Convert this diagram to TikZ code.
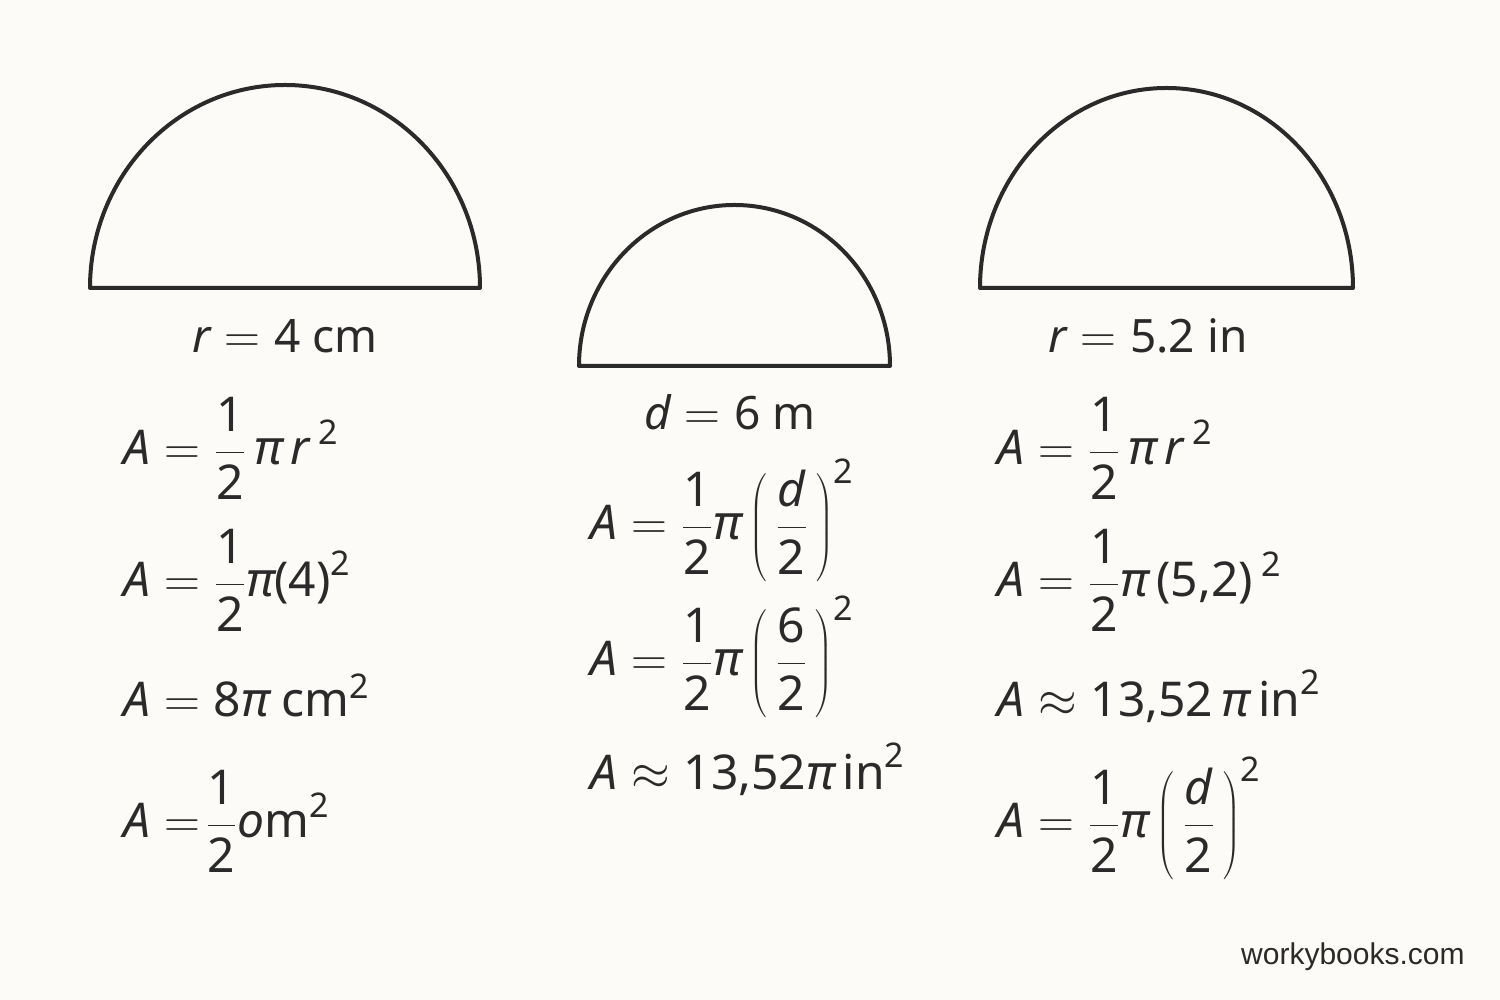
\documentclass[tikz,border=0pt]{standalone}
\usepackage{fontspec}
\setmainfont{Noto Sans}
\newfontfamily\wbfont{Liberation Sans}
\definecolor{ink}{HTML}{2A2A2A}
\definecolor{paper}{HTML}{FCFBF7}
\newcommand{\I}[1]{\mbox{\itshape #1}}
\newcommand{\R}[1]{\mbox{#1}}
\newcommand{\half}{\displaystyle\frac{\R{1}}{\R{2}}}
\newcommand{\sqr}{^{\mbox{\fontsize{17}{17}\selectfont 2}}}
\begin{document}
\begin{tikzpicture}[x=0.5pt,y=0.5pt,
  semi/.style={draw=ink,line width=2pt,line join=round},
  f/.style={anchor=base west,inner sep=0pt,text=ink,font=\fontsize{24}{28}\selectfont},
  lab/.style={anchor=base,inner sep=0pt,text=ink,font=\fontsize{23}{27}\selectfont}]
\fill[paper] (0,0) rectangle (1500,1000);
\useasboundingbox (0,0) rectangle (1500,1000);
% semicircles
\draw[semi] (90,712) arc[start angle=180,end angle=0,x radius=195,y radius=203] -- cycle;
\draw[semi] (579,634) arc[start angle=180,end angle=0,x radius=155.5,y radius=161] -- cycle;
\draw[semi] (980,712) arc[start angle=180,end angle=0,x radius=186.5,y radius=200] -- cycle;
% labels
\node[lab] (rl) at (285,647) {$\I{r} = \R{4 cm}$};
\node[lab] (dm) at (730,570) {$\I{d} = \R{6 m}$};
\node[lab] (rr) at (1148,647) {$\I{r} = \R{5.2 in}$};
% left column
\node[f] (l1) at (123,535) {$\I{A} = \half\,\I{π}\,\I{r}\,\sqr$};
\node[f] (l2) at (123,403) {$\I{A} = \half\I{π}\R{(4)}\sqr$};
\node[f] (l3) at (123,283) {$\I{A} = \R{8}\I{π}\R{ cm}\sqr$};
\node[f] (l4) at (123,162) {$\I{A} =\! \half\I{o}\R{m}\sqr$};
% middle column
\node[f] (m1) at (590,460) {$\I{A} = \half\I{π}\left(\,\frac{\I{d}}{\R{2}}\,\right)\sqr$};
\node[f] (m2) at (590,324) {$\I{A} = \half\I{π}\left(\,\frac{\R{6}}{\R{2}}\,\right)\sqr$};
\node[f] (m3) at (590,210) {$\I{A} \approx \R{13,52}\I{π}\,\R{in}\sqr$};
% right column
\node[f] (r1) at (997,535) {$\I{A} = \half\,\I{π}\,\I{r}\,\sqr$};
\node[f] (r2) at (997,403) {$\I{A} = \half\I{π}\,\R{(5,2)}\,\sqr$};
\node[f] (r3) at (997,283) {$\I{A} \approx \R{13,52}\,\I{π}\,\R{in}\sqr$};
\node[f] (r4) at (997,162) {$\I{A} = \half\I{π}\left(\,\frac{\I{d}}{\R{2}}\,\right)\sqr$};
% watermark
\node[anchor=base east,inner sep=0pt,text=ink,font=\wbfont\fontsize{15}{18}\selectfont] (wb) at (1465,35) {workybooks.com};
\end{tikzpicture}
\end{document}
